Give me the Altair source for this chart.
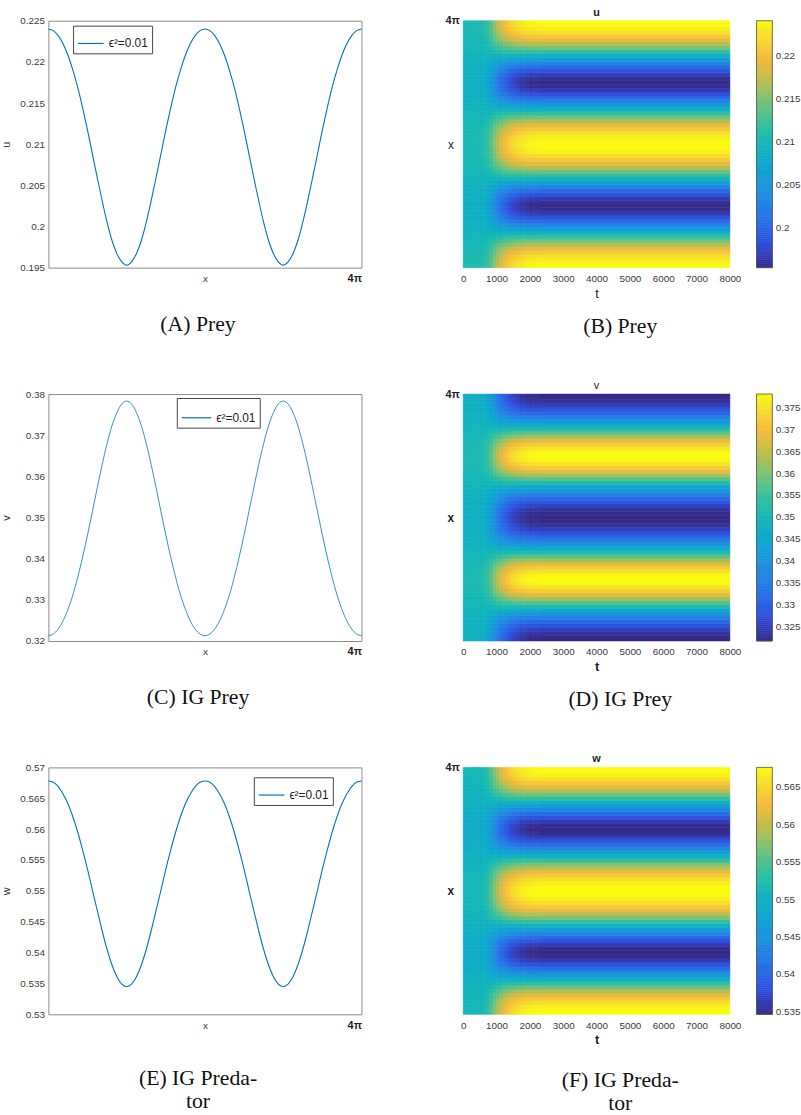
import altair as alt
import numpy as np
import pandas as pd

FOUR_PI = 4 * np.pi

# spatial profiles over one half period (x = 0 .. pi, step pi/16)
u_half = [0.2240, 0.2238, 0.2232, 0.2222, 0.2208, 0.2190, 0.2169, 0.2144, 0.2117,
          0.2088, 0.2059, 0.2031, 0.2005, 0.1983, 0.1967, 0.1957, 0.1953]
v_half = [0.3213, 0.3217, 0.3229, 0.3249, 0.3277, 0.3312, 0.3355, 0.3404, 0.3458,
          0.3515, 0.3573, 0.3629, 0.3680, 0.3723, 0.3755, 0.3776, 0.3783]
w_half = [0.5678, 0.5676, 0.5669, 0.5657, 0.5641, 0.5620, 0.5595, 0.5566, 0.5535,
          0.5501, 0.5468, 0.5435, 0.5405, 0.5380, 0.5361, 0.5349, 0.5345]

u_star, v_star, w_star = 0.2093, 0.3493, 0.5500

# pattern strength over time (fraction of final amplitude)
t_start = [0, 100, 200, 300, 400, 500, 600, 700, 800, 900, 1000, 1100, 1200, 1300,
           1400, 1500, 1600, 1700, 1800, 1900, 2000, 2100, 2200, 2300]
t_end = [100, 200, 300, 400, 500, 600, 700, 800, 900, 1000, 1100, 1200, 1300, 1400,
         1500, 1600, 1700, 1800, 1900, 2000, 2100, 2200, 2300, 8000]
growth = [0.07, 0.06, 0.06, 0.06, 0.07, 0.08, 0.11, 0.18, 0.30, 0.42, 0.53, 0.63,
          0.71, 0.78, 0.84, 0.88, 0.91, 0.94, 0.96, 0.975, 0.985, 0.99, 0.995, 1.0]

u_ticks = [0.195, 0.2, 0.205, 0.21, 0.215, 0.22, 0.225]
v_ticks = [0.32, 0.33, 0.34, 0.35, 0.36, 0.37, 0.38]
w_ticks = [0.53, 0.535, 0.54, 0.545, 0.55, 0.555, 0.56, 0.565, 0.57]
u_cbar = [0.2, 0.205, 0.21, 0.215, 0.22]
v_cbar = [0.325, 0.33, 0.335, 0.34, 0.345, 0.35, 0.355, 0.36, 0.365, 0.37, 0.375]
w_cbar = [0.535, 0.54, 0.545, 0.55, 0.555, 0.56, 0.565]
u_crange = [0.1953, 0.2240]
v_crange = [0.3216, 0.3781]
w_crange = [0.5346, 0.5676]
t_ticks = [0, 1000, 2000, 3000, 4000, 5000, 6000, 7000, 8000]

parula = ["#352a87", "#2f4fe0", "#2479e8", "#1b93dc", "#0da6d0", "#12b7b8",
          "#38c09a", "#7cc274", "#c4bd48", "#f8bb3a", "#f6e12a", "#f9fb0e"]
parula_pos = [0.0, 0.1, 0.22, 0.32, 0.41, 0.50, 0.59, 0.68, 0.77, 0.86, 0.945, 1.0]

legend_label = "ϵ²=0.01"
LINE_BLUE = "#0072BD"
SANS = "Liberation Sans"
SERIF = "Liberation Serif"
LABEL_COLOR = "#3a3a3a"


def full(h):
    return h + h[-2::-1] + h[1:] + h[-2::-1]


u_prof, v_prof, w_prof = full(u_half), full(v_half), full(w_half)
xs = [k * FOUR_PI / 64 for k in range(65)]


def heat_df(profile, base):
    dx = FOUR_PI / (len(profile) - 1)
    rows = []
    for k, p in enumerate(profile):
        y1 = max(0.0, (k - 0.5) * dx)
        y2 = min(FOUR_PI, (k + 0.5) * dx)
        for a, t1, t2 in zip(growth, t_start, t_end):
            rows.append(dict(t1=t1, t2=t2, y1=y1, y2=y2, val=base + a * (p - base)))
    return pd.DataFrame(rows)


def cbar_df(crange, n=120):
    edges = np.linspace(crange[0], crange[1], n + 1)
    return pd.DataFrame({"c1": edges[:-1], "c2": edges[1:], "val": (edges[:-1] + edges[1:]) / 2})


def caption_title(lines, dx, offset):
    return alt.TitleParams(text=lines, orient="bottom", anchor="middle", frame="group",
                           font=SERIF, fontSize=22, fontWeight="normal", color="#111",
                           baseline="top", dx=dx, offset=offset, lineHeight=23)


def line_chart(prof, ticks, dom, ylab, lx, ly, sym, sw, caption, cap_off):
    df = pd.DataFrame({"x": xs, "y": prof, "s": [legend_label] * len(xs)})
    return alt.Chart(df).mark_line(strokeWidth=sw, interpolate="monotone").encode(
        x=alt.X("x:Q", scale=alt.Scale(domain=[0, FOUR_PI], nice=False, zero=False),
                axis=alt.Axis(values=[FOUR_PI], labelExpr="'4π'", labelFontWeight="bold",
                              labelFont=SANS, labelFontSize=11, labelColor="#222",
                              labelAlign="right", labelBaseline="middle", labelPadding=11,
                              labelFlush=False, ticks=False, tickSize=0, domain=False, grid=False,
                              title="x", titleFont=SANS, titleFontSize=10, titleFontWeight="normal",
                              titleColor=LABEL_COLOR, titleY=11, titleBaseline="middle")),
        y=alt.Y("y:Q", scale=alt.Scale(domain=dom, nice=False, zero=False),
                axis=alt.Axis(values=ticks, format=".3~f", labelFont=SANS, labelFontSize=10,
                              labelColor=LABEL_COLOR, labelPadding=4, ticks=False, tickSize=0,
                              domain=False, grid=False, labelFlush=False,
                              title=ylab, titleFont=SANS, titleFontSize=11, titleFontWeight="normal",
                              titleColor=LABEL_COLOR, titleX=-37, titleY=125)),
        color=alt.Color("s:N", scale=alt.Scale(range=[LINE_BLUE]),
                        legend=alt.Legend(orient="none", legendX=lx, legendY=ly, title=None,
                                          symbolType="stroke", symbolSize=sym, symbolStrokeWidth=1.2,
                                          strokeColor="#444", fillColor="white", padding=4,
                                          labelFont=SANS, labelFontSize=12, labelColor="#222",
                                          labelOffset=4)),
    ).properties(width=317, height=250, title=caption_title(caption, -7, cap_off),
                 view=alt.ViewBackground(stroke="#8a8a8a", strokeWidth=1))


def heatmap(prof, base, crange, cvals, name, name_bold, axis_bold, caption, cap_off):
    df = heat_df(prof, base)
    dom = [crange[0] + p * (crange[1] - crange[0]) for p in parula_pos]
    cs = alt.Scale(domain=dom, range=parula, clamp=True, interpolate="rgb")
    rect = alt.Chart(df).mark_rect(strokeWidth=0.6).encode(
        x=alt.X("t1:Q", scale=alt.Scale(domain=[0, 8000], nice=False, zero=False),
                axis=alt.Axis(values=t_ticks, format="d", labelFont=SANS, labelFontSize=10,
                              labelColor=LABEL_COLOR, labelPadding=6, ticks=False, tickSize=0,
                              domain=False, grid=False, labelFlush=False,
                              title="t", titleFont=SANS, titleFontSize=13,
                              titleFontWeight="bold" if axis_bold else "normal",
                              titleColor="#222", titleY=26, titleBaseline="middle")),
        x2="t2:Q",
        y=alt.Y("y1:Q", scale=alt.Scale(domain=[0, FOUR_PI], nice=False, zero=False),
                axis=alt.Axis(values=[FOUR_PI], labelExpr="'4π'", labelFontWeight="bold",
                              labelFont=SANS, labelFontSize=11, labelColor="#222",
                              labelBaseline="middle", labelPadding=4, ticks=False, tickSize=0,
                              domain=False, grid=False, labelFlush=False,
                              title="x", titleFont=SANS, titleFontSize=12, titleAngle=0,
                              titleFontWeight="bold" if axis_bold else "normal",
                              titleColor="#222", titleX=-13, titleY=125,
                              titleAlign="center", titleBaseline="middle")),
        y2="y2:Q",
        color=alt.Color("val:Q", scale=cs, legend=None),
        stroke=alt.Stroke("val:Q", scale=cs, legend=None),
    )
    # colour bar, drawn as a column of thin rects on its own value scale
    cb = alt.Chart(cbar_df(crange)).mark_rect(strokeWidth=0.6).encode(
        x=alt.value(297), x2=alt.value(313),
        y=alt.Y("c1:Q", scale=alt.Scale(domain=crange, nice=False, zero=False),
                axis=alt.Axis(orient="right", offset=40, values=cvals, format=".3~f",
                              labelFont=SANS, labelFontSize=10, labelColor=LABEL_COLOR,
                              labelPadding=3, ticks=True, tickSize=3, tickColor="#777",
                              domain=False, grid=False, labelFlush=False, title=None)),
        y2="c2:Q",
        color=alt.Color("val:Q", scale=cs, legend=None),
        stroke=alt.Stroke("val:Q", scale=cs, legend=None),
    )
    frame = alt.Chart(pd.DataFrame({"f": [0]})).mark_rect(
        fill=None, stroke="#555", strokeWidth=0.8
    ).encode(x=alt.value(297), x2=alt.value(313), y=alt.value(0), y2=alt.value(250))
    txt = alt.Chart(pd.DataFrame({"s": [name]})).mark_text(
        font=SANS, fontSize=11, fontWeight="bold" if name_bold else "normal",
        color="#222", baseline="middle", align="center"
    ).encode(text="s:N", x=alt.value(135), y=alt.value(-8))
    return alt.layer(rect, cb, frame, txt).resolve_scale(y="independent").properties(
        width=270, height=250, title=caption_title(caption, 24, cap_off),
        view=alt.ViewBackground(stroke=None))


A = line_chart(u_prof, u_ticks, [0.195, 0.225], "u", 25, 5, 676, 1.1, ["(A) Prey"], 31)
B = heatmap(u_prof, u_star, u_crange, u_cbar, "u", True, False, ["(B) Prey"], 16)
C = line_chart(v_prof, v_ticks, [0.32, 0.38], "v", 130, 4, 900, 0.8, ["(C) IG Prey"], 31)
D = heatmap(v_prof, v_star, v_crange, v_cbar, "v", False, True, ["(D) IG Prey"], 16)
E = line_chart(w_prof, w_ticks, [0.53, 0.57], "w", 208, 10, 676, 1.1,
               ["(E) IG Preda-", "tor"], 39)
F = heatmap(w_prof, w_star, w_crange, w_cbar, "w", True, True, ["(F) IG Preda-", "tor"], 24)

chart = alt.concat(A, B, C, D, E, F, columns=2,
                   spacing={"row": 44, "column": 81}, align="each").resolve_scale(
    color="independent", stroke="independent"
).properties(padding={"left": 0, "top": 0, "right": 0, "bottom": 0}, background="white")

chart.save("out.html", embed_options={"renderer": "svg", "actions": False})
